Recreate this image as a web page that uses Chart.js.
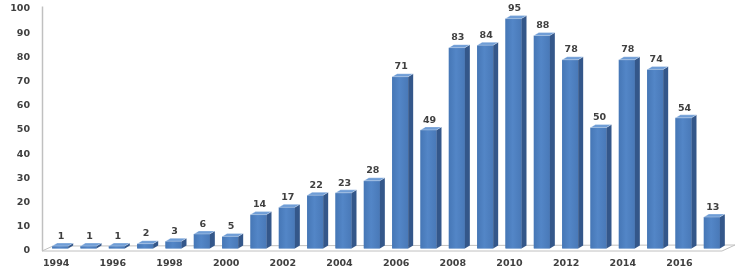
<!DOCTYPE html>
<html>
<head>
<meta charset="utf-8">
<script src="https://cdn.jsdelivr.net/npm/chart.js@4.4.1/dist/chart.umd.min.js"></script>
<style>
  html, body { margin: 0; padding: 0; background: #ffffff; }
  #wrap { width: 740px; height: 280px; }
</style>
</head>
<body>
<div id="wrap"><canvas id="chart"></canvas></div>
<script>
const years = [1994, 1995, 1996, 1997, 1998, 1999, 2000, 2001, 2002, 2003, 2004, 2005,
               2006, 2007, 2008, 2009, 2010, 2011, 2012, 2013, 2014, 2015, 2016, 2017];
const counts = [1, 1, 1, 2, 3, 6, 5, 14, 17, 22, 23, 28,
                71, 49, 83, 84, 95, 88, 78, 50, 78, 74, 54, 13];
const yMin = 0;
const yMax = 100;
const yStep = 10;

const labelFont = { family: 'DejaVu Sans', size: 9.5, weight: 'bold' };
const textColor = '#404040';

// depth of the fake 3D effect
const DX = 5, DY = 3;

/// Floor, y axis line, then side/top faces and value labels for each bar
const bars3d = {
    id: 'bars3d',
    beforeDatasetsDraw(chart) {
        const { ctx, chartArea } = chart;
        const fy = chartArea.bottom + 2.5;
        const fl = chartArea.left - 4, fr = chartArea.right - 4;
        ctx.save();
        // floor
        ctx.beginPath();
        ctx.moveTo(fl, fy);
        ctx.lineTo(fr, fy);
        ctx.lineTo(fr + 13, fy - 6);
        ctx.lineTo(fl + 11, fy - 5);
        ctx.closePath();
        ctx.fillStyle = '#ffffff';
        ctx.fill();
        ctx.strokeStyle = '#c0c0c0';
        ctx.lineWidth = 1;
        ctx.stroke();
        // y axis
        ctx.beginPath();
        ctx.moveTo(fl + 0.5, chartArea.top);
        ctx.lineTo(fl + 0.5, fy);
        ctx.strokeStyle = '#c0c0c0';
        ctx.lineWidth = 1.5;
        ctx.stroke();
        ctx.restore();
    },
    afterDatasetsDraw(chart) {
        const { ctx } = chart;
        const meta = chart.getDatasetMeta(0);
        ctx.save();
        meta.data.forEach((bar, i) => {
            const { x, y, base, width } = bar.getProps(['x', 'y', 'base', 'width'], true);
            const l = x - width / 2, r = x + width / 2;

            // front face with soft highlight
            const g = ctx.createLinearGradient(l, 0, r, 0);
            g.addColorStop(0, '#4677b6');
            g.addColorStop(0.45, '#5386c7');
            g.addColorStop(1, '#4979b8');
            ctx.fillStyle = g;
            ctx.fillRect(l, y, width, base - y);

            // side face
            ctx.beginPath();
            ctx.moveTo(r, y);
            ctx.lineTo(r + DX, y - DY);
            ctx.lineTo(r + DX, base - DY);
            ctx.lineTo(r, base);
            ctx.closePath();
            ctx.fillStyle = '#34578a';
            ctx.fill();

            // top face
            ctx.beginPath();
            ctx.moveTo(l, y);
            ctx.lineTo(r, y);
            ctx.lineTo(r + DX, y - DY);
            ctx.lineTo(l + DX, y - DY);
            ctx.closePath();
            ctx.fillStyle = '#6f9dd6';
            ctx.fill();
            ctx.strokeStyle = 'rgba(255,255,255,0.5)';
            ctx.lineWidth = 0.6;
            ctx.stroke();

            // value label
            ctx.font = `${labelFont.weight} ${labelFont.size}px ${labelFont.family}`;
            ctx.fillStyle = textColor;
            ctx.textAlign = 'center';
            ctx.textBaseline = 'bottom';
            ctx.fillText(String(counts[i]), x + 1, y - 5);
        });
        ctx.restore();
    }
};

new Chart('chart', {
    type: 'bar',
    data: {
        labels: years,
        datasets: [{
            data: counts,
            backgroundColor: '#4f81bd',
            borderWidth: 0,
            barPercentage: 0.565,
            categoryPercentage: 1
        }]
    },
    options: {
        responsive: true,
        maintainAspectRatio: false,
        animation: false,
        layout: { padding: { top: 6.5, right: 14, left: 0, bottom: 0 } },
        plugins: {
            legend: { display: false },
            tooltip: { enabled: false }
        },
        scales: {
            x: {
                grid: { display: false, drawTicks: false },
                border: { display: false },
                ticks: {
                    autoSkip: false,
                    maxRotation: 0,
                    padding: 9,
                    labelOffset: -4,
                    color: textColor,
                    font: labelFont,
                    callback: (v, i) => (i % 2 === 0 ? String(years[i]) : '')
                },
                afterFit: s => { s.height = 31.5; }
            },
            y: {
                min: yMin,
                max: yMax,
                grid: { display: false, drawTicks: false },
                border: { display: false },
                ticks: {
                    stepSize: yStep,
                    padding: 16,
                    labelOffset: 2.5,
                    color: textColor,
                    font: labelFont
                },
                afterFit: s => { s.width = 46; s.paddingTop = 0; s.paddingBottom = 0; }
            }
        }
    },
    plugins: [bars3d]
});
</script>
</body>
</html>
